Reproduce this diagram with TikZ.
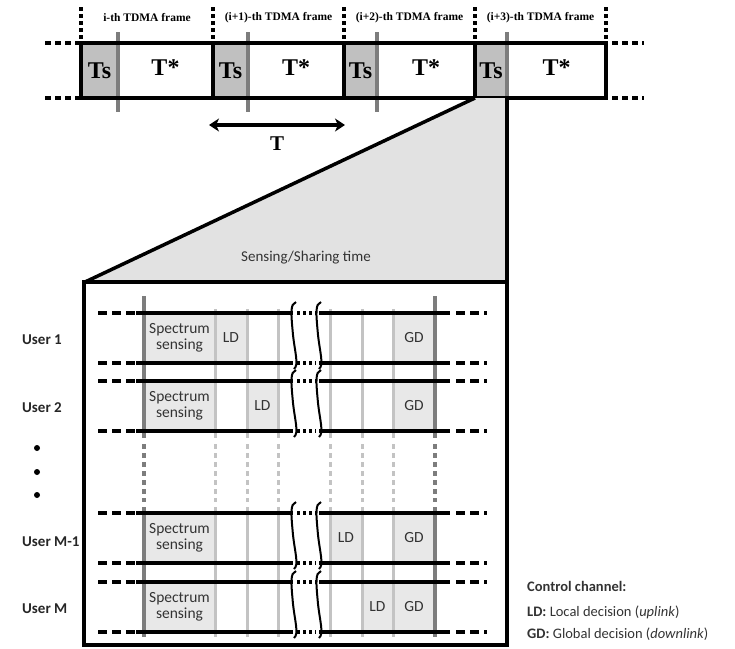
\documentclass[tikz,border=0pt]{standalone}
\usepackage{fontspec}
\setmainfont{Liberation Serif}
\setsansfont{Carlito}
\usetikzlibrary{arrows.meta}

\tikzset{
  tscell/.style={fill=tsgray,minimum height=55pt,inner sep=0pt,font=\fontsize{24}{26}\selectfont\bfseries},
  tstar/.style={inner sep=0pt,font=\fontsize{24}{26}\selectfont\bfseries},
  framelbl/.style={inner sep=0pt,font=\fontsize{11.5}{13}\selectfont\bfseries},
  userlbl/.style={anchor=west,inner sep=0pt,text=black!85,font=\sffamily\bfseries\fontsize{15}{18}\selectfont},
  slot/.style={fill=cellgray,minimum height=48pt,inner sep=0pt,align=center,text=black!80,font=\sffamily\fontsize{15.5}{16}\selectfont},
  legend/.style={anchor=west,inner sep=0pt,text=black!80,font=\sffamily\fontsize{14.5}{17}\selectfont},
  dotmark/.style={circle,fill=black,minimum size=6pt,inner sep=0pt},
  chanline/.style={line width=3.5pt},
  darkbar/.style={line width=3.5pt,draw=darkline},
  lightbar/.style={line width=3pt,draw=lightline}
}

\begin{document}
\begin{tikzpicture}[x=1pt,y=-1pt,>={Stealth[length=10pt,width=13pt,inset=3pt]}]
  \definecolor{tsgray}{RGB}{192,192,192}
  \definecolor{zoomgray}{RGB}{226,226,226}
  \definecolor{cellgray}{RGB}{232,232,232}
  \definecolor{darkline}{RGB}{125,125,125}
  \definecolor{lightline}{RGB}{195,195,195}
  \useasboundingbox (0,0) rectangle (735,648);

  % TDMA frames
  \foreach \a/\b/\c/\n/\t in {81/118/213/1/{i-th}, 213/248/344/2/{(i+1)-th}, 344/377/475/3/{(i+2)-th}, 475/507/606/4/{(i+3)-th}} {
    \node[tscell,minimum width=\b-\a] (ts\n) at ({(\a+\b)/2},70.5) {Ts};
    \node[tstar] (tstar\n) at ({(\b+\c)/2},68) {T*};
    \node[framelbl] (fr\n) at ({(\a+\c)/2},18) {\t{} TDMA frame};
    \draw[line width=3.5pt,dash pattern=on 4pt off 3pt] (\a,7) -- (\a,43);
    \draw[darkbar] (\b,32) -- (\b,112);
    \draw[line width=3.5pt] (\a,43) -- (\a,98);
  }
  \draw[line width=3.5pt] (81,43) rectangle (606,98);
  \draw[line width=3.5pt,dash pattern=on 4pt off 3pt] (606,7) -- (606,43);
  \draw[line width=3.5pt,dash pattern=on 6pt off 4pt] (45,43) -- (79,43) (45,98) -- (79,98);
  \draw[line width=3.5pt,dash pattern=on 6pt off 4pt] (612,43) -- (644,43) (612,98) -- (644,98);

  \coordinate (tA) at (209,125);
  \coordinate (tB) at (345,125);
  \draw[<->,line width=3.5pt] (tA) -- (tB);
  \node[inner sep=0pt,font=\fontsize{21}{23}\selectfont\bfseries] (tlbl) at (277,144) {T};

  % zoom onto the sensing slot
  \fill[zoomgray] (475,98) -- (507,98) -- (507,282) -- (85,282) -- cycle;
  \draw[line width=3.5pt] (475,98) -- (85,282);
  \draw[line width=3.5pt] (507,98) -- (507,282);
  \node[inner sep=0pt,text=black!80,font=\sffamily\fontsize{15}{18}\selectfont] (sst) at (306,258) {Sensing/Sharing time};
  \draw[line width=3.5pt] (84,282) rectangle (507,645);

  % slots of each user
  \foreach \r/\y/\ld in {1/313/231, 2/381/262.5, 3/513/346, 4/582/377.5} {
    \node[slot,minimum width=71pt] (ss\r) at (179.5,\y+25) {Spectrum\\sensing};
    \node[slot,minimum width=31pt] (ld\r) at (\ld,\y+25) {LD};
    \node[slot,minimum width=42pt] (gd\r) at (414,\y+25) {GD};
  }

  % vertical slot borders
  \foreach \x in {215,247,278,330,362,393} {
    \draw[lightbar] (\x,309) -- (\x,438);
    \draw[lightbar] (\x,507) -- (\x,637);
    \draw[lightbar,dash pattern=on 5pt off 4pt] (\x,444) -- (\x,502);
  }
  \foreach \x in {144,435} {
    \draw[darkbar] (\x,296) -- (\x,438);
    \draw[darkbar] (\x,507) -- (\x,637);
    \draw[darkbar,dash pattern=on 5pt off 4pt] (\x,444) -- (\x,502);
  }

  % channel lines with breaks
  \foreach \y in {313,363,381,431,513,563,582,632} {
    \draw[chanline,dash pattern=on 9pt off 5pt] (98,\y) -- (136,\y);
    \draw[chanline] (136,\y) -- (293,\y);
    \draw[chanline,dash pattern=on 3pt off 3pt] (297,\y) -- (316,\y);
    \draw[chanline] (319,\y) -- (450,\y);
    \draw[chanline,dash pattern=on 9pt off 5pt] (456,\y) -- (487,\y);
  }
  \foreach \y in {313,381,513,582} {
    \foreach \x in {293,318} {
      \draw[line width=2pt] (\x+3,\y-11) .. controls (\x-3,\y-9) and (\x-2,\y) .. (\x,\y+22)
        .. controls (\x+2,\y+40) and (\x+6,\y+52) .. (\x+1,\y+56);
    }
  }

  % users
  \node[userlbl] (u1) at (22,340) {User 1};
  \node[userlbl] (u2) at (22,408) {User 2};
  \node[dotmark] (dt1) at (37,448) {};
  \node[dotmark] (dt2) at (37,472) {};
  \node[dotmark] (dt3) at (37,495) {};
  \node[userlbl] (u3) at (22,542) {User M-1};
  \node[userlbl] (u4) at (22,609) {User M};

  % legend
  \node[legend] (lg1) at (527,586) {\textbf{Control channel:}};
  \node[legend] (lg2) at (527,612) {\textbf{LD:} Local decision (\textit{uplink})};
  \node[legend] (lg3) at (527,634) {\textbf{GD:} Global decision (\textit{downlink})};
\end{tikzpicture}
\end{document}
